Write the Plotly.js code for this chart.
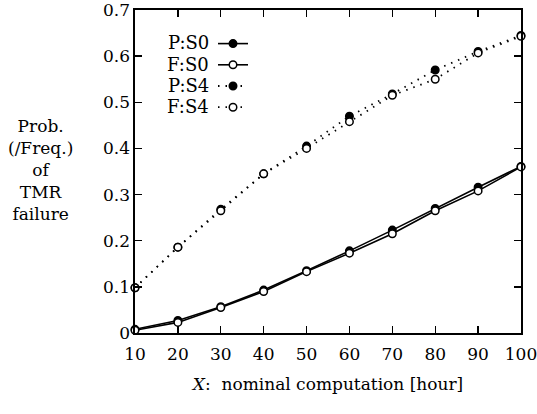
<!DOCTYPE html>
<html>
<head>
<meta charset="utf-8">
<script src="https://cdn.plot.ly/plotly-3.0.1.min.js"></script>
<style>html,body{margin:0;padding:0;background:#fff;}#chart{width:537px;height:414px;}</style>
</head>
<body>
<div id="chart"></div>
<script>
const hours = [10, 20, 30, 40, 50, 60, 70, 80, 90, 100];
const probS0 = [0.008, 0.027, 0.057, 0.093, 0.135, 0.178, 0.223, 0.270, 0.316, 0.361];
const freqS0 = [0.006, 0.023, 0.055, 0.090, 0.133, 0.173, 0.215, 0.265, 0.308, 0.360];
const probS4 = [0.098, 0.186, 0.268, 0.345, 0.405, 0.470, 0.518, 0.570, 0.610, 0.645];
const freqS4 = [0.098, 0.186, 0.265, 0.345, 0.400, 0.458, 0.515, 0.550, 0.607, 0.643];
const seriesLabels = ["P:S0", "F:S0", "P:S4", "F:S4"];
const xTicks = [10, 20, 30, 40, 50, 60, 70, 80, 90, 100];
const yTicks = [0, 0.1, 0.2, 0.3, 0.4, 0.5, 0.6, 0.7];

const FONT = "DejaVu Serif";

function trace(y, filled, dotted) {
  return {
    x: hours, y: y, type: "scatter", mode: "lines+markers", name: " ",
    cliponaxis: false,
    line: {color: "#000", width: dotted ? 1.8 : 1.6, dash: dotted ? "1.5px,6px" : "solid"},
    marker: {symbol: "circle", size: 7.5, color: filled ? "#000" : "#fff",
             line: {color: "#000", width: 1.5}}
  };
}
const data = [
  trace(probS0, true, false),
  trace(freqS0, false, false),
  trace(probS4, true, true),
  trace(freqS4, false, true)
];

const legendLabelAnns = seriesLabels.map((t, i) => ({
  text: t, xref: "paper", yref: "paper", x: (211 - 135) / 386, y: (333 - (43 + 21.3 * i)) / 323,
  xanchor: "right", yanchor: "middle", showarrow: false,
  font: {family: FONT, size: 18, color: "#000"}
}));

const layout = {
  width: 537, height: 414,
  margin: {l: 135, r: 16, t: 10, b: 81},
  paper_bgcolor: "#fff", plot_bgcolor: "#fff",
  font: {family: FONT, size: 16, color: "#000"},
  showlegend: true,
  legend: {x: (213 - 135) / 386, y: (333 - 28) / 323, xanchor: "left", yanchor: "top",
           bgcolor: "rgba(0,0,0,0)", font: {family: FONT, size: 14},
           tracegroupgap: 0},
  xaxis: {range: [10, 100], tickvals: xTicks, ticktext: xTicks.map(String),
          ticks: "inside", ticklen: 7, tickwidth: 1.3, tickcolor: "#000",
          showline: true, linecolor: "#000", linewidth: 1.6, mirror: "ticks",
          showgrid: false, zeroline: false, ticklabeloverflow: "allow",
          tickfont: {family: FONT, size: 17}, ticklabelstandoff: 5,
          title: {text: "<i>X</i>:  nominal computation [hour]", font: {family: FONT, size: 17}, standoff: 15}},
  yaxis: {range: [0, 0.7], tickvals: yTicks, ticktext: yTicks.map(v => v === 0 ? "0" : v.toFixed(1)),
          ticks: "inside", ticklen: 7, tickwidth: 1.3, tickcolor: "#000",
          showline: true, linecolor: "#000", linewidth: 1.6, mirror: "ticks",
          showgrid: false, zeroline: false, ticklabeloverflow: "allow",
          tickfont: {family: FONT, size: 17}},
  annotations: [
    {text: "Prob.<br>(/Freq.)<br>of<br>TMR<br>failure", xref: "paper", yref: "paper",
     x: (40 - 135) / 386, xanchor: "center", y: (333 - 170) / 323, yanchor: "middle", showarrow: false,
     font: {family: FONT, size: 17, color: "#000"}}
  ].concat(legendLabelAnns)
};

Plotly.newPlot("chart", data, layout, {displayModeBar: false, staticPlot: true});
</script>
</body>
</html>
